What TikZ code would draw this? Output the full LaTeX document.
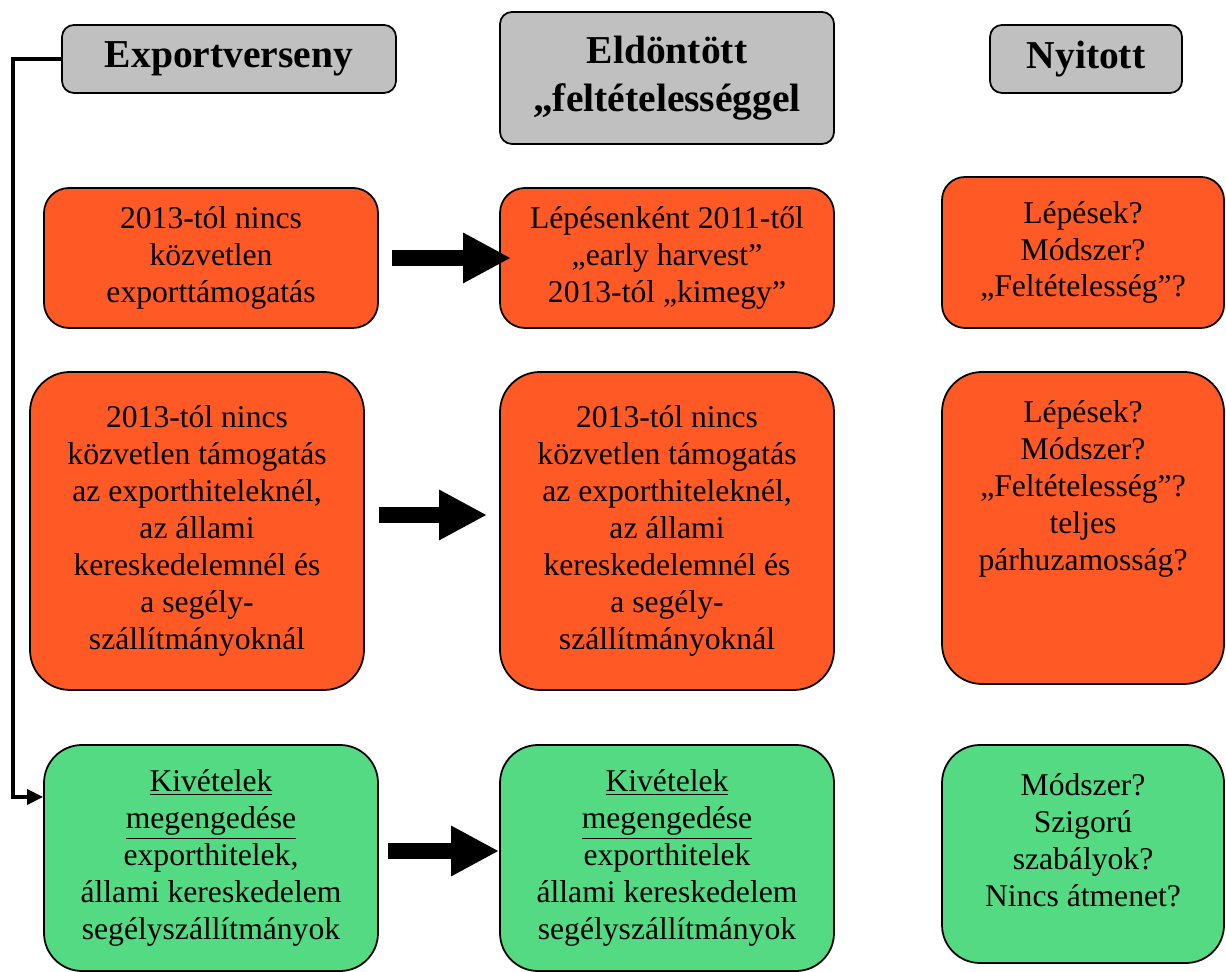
\documentclass[tikz,border=0pt]{standalone}
\usepackage{fontspec}
\setmainfont{Liberation Serif}
\usepackage{tikz}
\definecolor{boxorange}{RGB}{255, 89, 37}
\definecolor{boxgreen}{RGB}{84, 218, 130}
\definecolor{headgray}{RGB}{192, 192, 192}
\usetikzlibrary{arrows.meta, positioning, calc}

\begin{document}
\begin{tikzpicture}[
    box/.style={rectangle, draw, line width=1pt, align=center, inner sep=0.1cm, font=\fontsize{18}{21}\selectfont},
    head/.style={box, fill=headgray, rounded corners=0.24cm, minimum height=1.36cm, font=\fontsize{22.5}{27.3}\selectfont\bfseries},
    orangebox/.style={box, fill=boxorange},
    greenbox/.style={box, fill=boxgreen},
    txt/.style={align=center, inner sep=0.1cm, font=\fontsize{18}{21}\selectfont},
    bigarrow/.style={line width=0.32cm, -{Triangle[length=0.96cm, width=0.94cm]}},
    link/.style={line width=0.065cm, -{Triangle[length=0.32cm, width=0.3cm]}},
]
    \useasboundingbox (0, 0) rectangle (24.52, 19.44);

    % Headers
    \node[head, minimum width=6.68cm] (export) at (4.58, 18.26) {Exportverseny};
    \node[head, minimum width=6.68cm, minimum height=2.64cm] (decided) at (13.34, 17.88) {Eldöntött\\„feltételességgel};
    \node[head, minimum width=3.84cm] (open) at (21.72, 18.26) {Nyitott};

    % Row 1
    \node[orangebox, rounded corners=0.5cm, minimum width=6.68cm, minimum height=2.8cm] (exp1) at (4.22, 14.28) {
        2013-tól nincs\\
        közvetlen\\
        exporttámogatás
    };
    \node[orangebox, rounded corners=0.5cm, minimum width=6.68cm, minimum height=2.8cm] (dec1) at (13.34, 14.28) {
        Lépésenként 2011-től\\
        „early harvest”\\
        2013-tól „kimegy”
    };
    \node[orangebox, rounded corners=0.46cm, minimum width=5.64cm, minimum height=3.02cm] (open1) at (21.66, 14.39) {
        Lépések?\\
        Módszer?\\
        „Feltételesség”?
    };

    % Row 2
    \node[orangebox, rounded corners=0.8cm, minimum width=6.68cm, minimum height=6.36cm] (exp2) at (3.94, 8.82) {
        2013-tól nincs\\
        közvetlen támogatás\\
        az exporthiteleknél,\\
        az állami\\
        kereskedelemnél és\\
        a segély-\\
        szállítmányoknál
    };
    \node[orangebox, rounded corners=0.8cm, minimum width=6.68cm, minimum height=6.36cm] (dec2) at (13.34, 8.82) {
        2013-tól nincs\\
        közvetlen támogatás\\
        az exporthiteleknél,\\
        az állami\\
        kereskedelemnél és\\
        a segély-\\
        szállítmányoknál
    };
    \node[orangebox, rounded corners=0.8cm, minimum width=5.64cm, minimum height=6.24cm] (open2) at (21.66, 8.88) {};
    \node[txt, anchor=north] (open2text) at ([yshift=-0.48cm]open2.north) {
        Lépések?\\
        Módszer?\\
        „Feltételesség”?\\
        teljes\\
        párhuzamosság?
    };

    % Row 3
    \node[greenbox, rounded corners=0.76cm, minimum width=6.68cm, minimum height=4.52cm] (exp3) at (4.22, 2.28) {
        \underline{Kivételek}\\
        \underline{megengedése}\\
        exporthitelek,\\
        állami kereskedelem\\
        segélyszállítmányok
    };
    \node[greenbox, rounded corners=0.76cm, minimum width=6.68cm, minimum height=4.52cm] (dec3) at (13.34, 2.28) {
        \underline{Kivételek}\\
        \underline{megengedése}\\
        exporthitelek\\
        állami kereskedelem\\
        segélyszállítmányok
    };
    \node[greenbox, rounded corners=0.76cm, minimum width=5.64cm, minimum height=4.36cm] (open3) at (21.66, 2.36) {};
    \node[txt] (open3text) at (21.66, 2.64) {
        Módszer?\\
        Szigorú\\
        szabályok?\\
        Nincs átmenet?
    };

    % Arrows
    \draw[bigarrow, shorten <=0.26cm, shorten >=-0.24cm] (exp1) -- (dec1);
    \draw[bigarrow, shorten <=0.28cm, shorten >=0.24cm] ([yshift=0.32cm]exp2.east) -- ([yshift=0.32cm]dec2.west);
    \draw[bigarrow, shorten <=0.18cm] ([yshift=0.14cm]exp3.east) -- ([yshift=0.14cm]dec3.west);

    % Link
    \draw[link] (export.west) -- ++(-0.96, 0) |- ([yshift=1.22cm]exp3.west);

\end{tikzpicture}
\end{document}
